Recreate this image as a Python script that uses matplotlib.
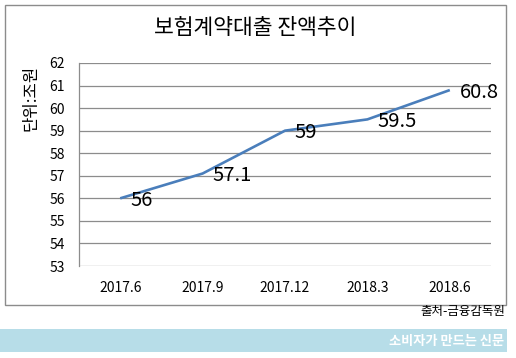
import matplotlib.pyplot as plt
from matplotlib.patches import Rectangle

plt.rcParams['font.family'] = ['Noto Sans CJK KR', 'DejaVu Sans']

# data
periods = ['2017.6', '2017.9', '2017.12', '2018.3', '2018.6']
balance = [56, 57.1, 59, 59.5, 60.8]
value_labels = ['56', '57.1', '59', '59.5', '60.8']
y_ticks = list(range(53, 63))

W, H = 516, 358
fig = plt.figure(figsize=(W / 100, H / 100), dpi=100)
fig.patch.set_facecolor('white')

# outer chart frame
fig.patches.append(Rectangle((5 / W, 1 - 305 / H), 501 / W, 300 / H,
                             transform=fig.transFigure, fill=False,
                             edgecolor='#8c8c8c', linewidth=1.0))

ax = fig.add_axes([79 / W, 1 - 266 / H, 412 / W, 203 / H])
x = list(range(len(periods)))
ax.plot(x, balance, color='#4a7ebb', linewidth=1.9, solid_capstyle='butt')

for xi, yi, lab in zip(x, balance, value_labels):
    ax.annotate(lab, (xi, yi), xytext=(7, -1.5), textcoords='offset points',
                ha='left', va='center', fontsize=14.5, color='black',
                annotation_clip=False)

ax.set_xlim(-0.5, len(periods) - 0.5)
ax.set_ylim(53, 62)
ax.set_yticks(y_ticks)
ax.set_yticklabels([str(t) for t in y_ticks], fontsize=10)
ax.set_xticks(x)
ax.set_xticklabels(periods, fontsize=10)
ax.tick_params(axis='both', length=0)
ax.tick_params(axis='y', pad=10)
ax.tick_params(axis='x', pad=11)
ax.grid(axis='y', color='#8c8c8c', linewidth=0.9)
ax.set_axisbelow(True)
for side in ['top', 'right', 'bottom']:
    ax.spines[side].set_visible(False)
ax.spines['left'].set_color('#8c8c8c')
ax.spines['left'].set_linewidth(0.9)

# title and unit label
fig.text(255 / W, 1 - 28 / H, '보험계약대출 잔액추이', ha='center', va='center',
         fontsize=15.5, fontweight='medium')
fig.text(31 / W, 1 - 98 / H, '단위:조원', ha='center', va='center',
         rotation=90, fontsize=12, fontweight='medium')

# source and footer band
fig.text(505 / W, 1 - 311 / H, '출처-금융감독원', ha='right', va='center',
         fontsize=9)
fig.patches.append(Rectangle((0, 1 - 352 / H), 507 / W, 23 / H,
                             transform=fig.transFigure, facecolor='#b7dde8',
                             edgecolor='none'))
fig.text(504 / W, 1 - 341 / H, '소비자가 만드는 신문', ha='right', va='center',
         fontsize=9.5, color='white', fontweight='bold')

fig.savefig('out.png', dpi=100)
